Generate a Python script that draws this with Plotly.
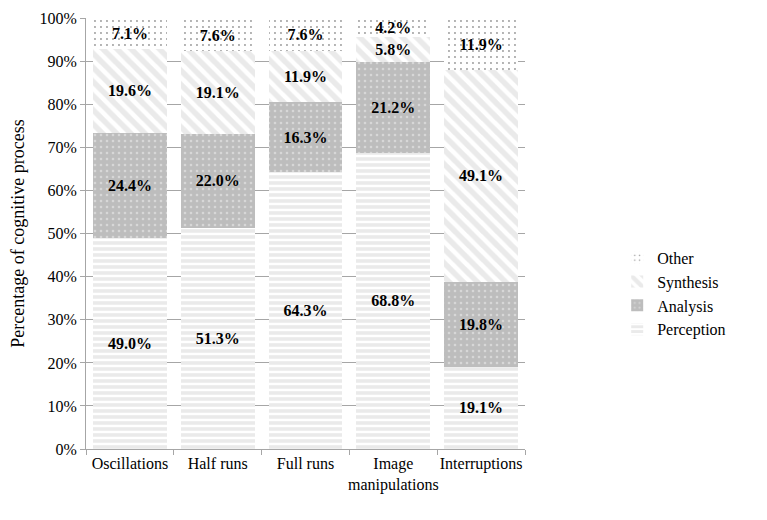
import plotly.graph_objects as go

categories = ["Oscillations", "Half runs", "Full runs", "Image<br>manipulations", "Interruptions"]
perception = [49.0, 51.3, 64.3, 68.8, 19.1]
analysis = [24.4, 22.0, 16.3, 21.2, 19.8]
synthesis = [19.6, 19.1, 11.9, 5.8, 49.1]
other = [7.1, 7.6, 7.6, 4.2, 11.9]
y_ticks = [0, 10, 20, 30, 40, 50, 60, 70, 80, 90, 100]

FONT = "Liberation Serif, Times New Roman, serif"

series = [
    ("Perception", perception, dict(shape="-", bgcolor="white", fgcolor="#d6d6d6", size=6, solidity=0.6)),
    ("Analysis", analysis, dict(shape=".", bgcolor="#bdbdbd", fgcolor="#f2f2f2", size=6, solidity=0.15)),
    ("Synthesis", synthesis, dict(shape="\\", bgcolor="white", fgcolor="#d6d6d6", size=10, solidity=0.55)),
    ("Other", other, dict(shape=".", bgcolor="white", fgcolor="#333333", size=6, solidity=0.08)),
]

fig = go.Figure()
for name, vals, pat in series:
    fig.add_trace(go.Bar(
        name=name, x=categories, y=vals,
        text=[f"{v:.1f}%" for v in vals],
        textposition="inside", insidetextanchor="middle",
        textfont=dict(family=FONT, size=16, color="black", weight="bold"),
        constraintext="none", cliponaxis=False,
        marker=dict(color=pat["bgcolor"], pattern=pat, line=dict(width=0)),
    ))

fig.update_layout(
    barmode="stack",
    bargap=0.16,
    width=767, height=520,
    margin=dict(l=78, r=250, t=10, b=79, autoexpand=False),
    paper_bgcolor="white", plot_bgcolor="white",
    font=dict(family=FONT, size=16, color="black"),
    uniformtext=dict(minsize=16, mode="show"),
    legend=dict(
        x=1.21, y=0.36, xanchor="left", yanchor="middle",
        traceorder="reversed", font=dict(family=FONT, size=16),
        itemwidth=30, tracegroupgap=0,
    ),
    yaxis=dict(
        range=[0, 100.15], tickvals=y_ticks, ticktext=[f"{t}%" for t in y_ticks],
        showgrid=True, gridcolor="#a6a6a6", gridwidth=1, automargin=False,
        showline=True, linecolor="#a6a6a6", ticks="outside", ticklen=5, tickcolor="#a6a6a6",
        title=dict(text="Percentage of cognitive process", font=dict(family=FONT, size=18), standoff=12),
        tickfont=dict(family=FONT, size=16), zeroline=False,
    ),
    xaxis=dict(
        showline=True, linecolor="#a6a6a6", ticks="outside", ticklen=5, tickcolor="#a6a6a6",
        tickson="boundaries", tickfont=dict(family=FONT, size=16), tickangle=0, automargin=False,
    ),
)

fig.write_html("out.html")
